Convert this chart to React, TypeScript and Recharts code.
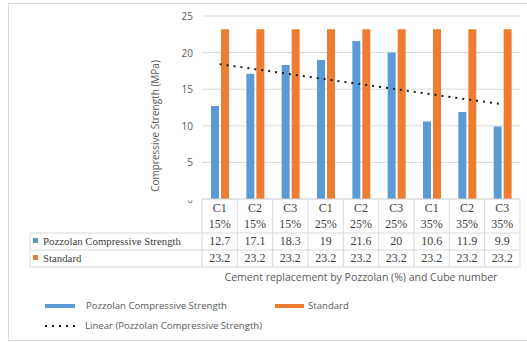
import { ComposedChart, Bar, Line, XAxis, YAxis, CartesianGrid } from "recharts";

const cubes = ["C1", "C2", "C3", "C1", "C2", "C3", "C1", "C2", "C3"];
const replacement = ["15%", "15%", "15%", "25%", "25%", "25%", "35%", "35%", "35%"];
const pozzolan = [12.7, 17.1, 18.3, 19, 21.6, 20, 10.6, 11.9, 9.9];
const standard = [23.2, 23.2, 23.2, 23.2, 23.2, 23.2, 23.2, 23.2, 23.2];
const yTicks = [0, 5, 10, 15, 20, 25];

const W = 527;
const H = 343;
const PLOT_LEFT = 202;
const PLOT_RIGHT = 520;
const PLOT_BOTTOM = 199;
const BAND = (PLOT_RIGHT - PLOT_LEFT) / cubes.length;
const HEAD_BOTTOM = 233;
const ROW1_BOTTOM = 250;
const ROW2_BOTTOM = 267;
const TABLE_LEFT = 30;

const GRID = "#d9d9d9";
const TEXT = "#595959";
const TABLE_TEXT = "#404040";
const BLUE = "#5b9bd5";
const ORANGE = "#ed7d31";
const SERIF = "'Liberation Serif', 'DejaVu Serif', serif";
const SANS = "'Open Sans', 'Noto Sans', sans-serif";

// least-squares linear trend through the pozzolan values
const n = pozzolan.length;
const xMean = (n + 1) / 2;
const yMean = pozzolan.reduce((a, b) => a + b, 0) / n;
let sxy = 0;
let sxx = 0;
pozzolan.forEach((v, i) => {
  sxy += (i + 1 - xMean) * (v - yMean);
  sxx += (i + 1 - xMean) ** 2;
});
const slope = sxy / sxx;

const data = cubes.map((c, i) => ({
  key: `${c}-${replacement[i]}`,
  pozzolan: pozzolan[i],
  standard: standard[i],
  trend: yMean + slope * (i + 1 - xMean),
}));

const YTick = (props: any) => {
  const { y, payload } = props;
  return (
    <g>
      <text
        x={PLOT_LEFT - 9}
        y={y}
        textAnchor="end"
        dominantBaseline="central"
        fontSize={10}
        fontFamily={SANS}
        fill={TEXT}
      >
        {payload.value}
      </text>
      {payload.value === 0 && <rect x={PLOT_LEFT - 20} y={y - 8} width={16} height={9.5} fill="#fff" />}
    </g>
  );
};

// one column of the data table under each category
const TableTick = (props: any) => {
  const { x, index } = props;
  const left = x - BAND / 2;
  const right = x + BAND / 2;
  const cell = (label: string | number, cy: number) => (
    <text
      x={x}
      y={cy}
      textAnchor="middle"
      dominantBaseline="central"
      fontSize={12}
      fontFamily={SERIF}
      fill={TABLE_TEXT}
    >
      {label}
    </text>
  );
  return (
    <g>
      {index === 0 && <line x1={left} y1={PLOT_BOTTOM} x2={left} y2={ROW2_BOTTOM} stroke={GRID} />}
      <line x1={right} y1={PLOT_BOTTOM} x2={right} y2={ROW2_BOTTOM} stroke={GRID} />
      {cell(cubes[index], 208)}
      {cell(replacement[index], 224)}
      {cell(pozzolan[index], 241)}
      {cell(standard[index], 258)}
    </g>
  );
};

const legendText = { fontFamily: SANS, fontSize: 9.6, color: TEXT, whiteSpace: "nowrap" as const, lineHeight: "12px" };

const LegendBox = () => (
  <div style={{ position: "absolute", left: 0, top: 296, width: W, height: 40 }}>
    <div style={{ position: "absolute", left: 45, top: 8, width: 30, height: 4, background: BLUE }} />
    <div style={{ ...legendText, position: "absolute", left: 86, top: 4 }}>Pozzolan Compressive Strength</div>
    <div style={{ position: "absolute", left: 275, top: 8, width: 29, height: 4, background: ORANGE }} />
    <div style={{ ...legendText, position: "absolute", left: 308, top: 4 }}>Standard</div>
    <svg style={{ position: "absolute", left: 44, top: 28 }} width={34} height={4}>
      <line x1={1} y1={2} x2={33} y2={2} stroke="#1a1a1a" strokeWidth={2} strokeDasharray="2 5" />
    </svg>
    <div style={{ ...legendText, position: "absolute", left: 85, top: 24 }}>
      Linear (Pozzolan Compressive Strength)
    </div>
  </div>
);

export default function App() {
  return (
    <div style={{ position: "absolute", left: 0, top: 0, width: W, height: H, overflow: "hidden", background: "#fff" }}>
      <div
        style={{
          position: "absolute",
          left: 8,
          top: 3,
          width: 530,
          height: 338,
          border: `1px solid ${GRID}`,
          boxSizing: "border-box",
        }}
      />
      <ComposedChart
        width={W}
        height={H}
        data={data}
        margin={{ top: 16, right: W - PLOT_RIGHT, bottom: 0, left: PLOT_LEFT - 30 }}
        barGap={2}
        style={{ position: "absolute", left: 0, top: 0 }}
      >
        <CartesianGrid vertical={false} stroke={GRID} />
        <XAxis
          dataKey="key"
          interval={0}
          height={H - PLOT_BOTTOM}
          tickLine={false}
          tickSize={0}
          axisLine={{ stroke: GRID }}
          tick={TableTick}
        />
        <YAxis
          width={30}
          domain={[0, 25]}
          ticks={yTicks}
          axisLine={false}
          tickLine={false}
          tickSize={0}
          tick={YTick}
        />
        <Bar dataKey="pozzolan" fill={BLUE} barSize={8} isAnimationActive={false} />
        <Bar dataKey="standard" fill={ORANGE} barSize={8} isAnimationActive={false} />
        <Line
          dataKey="trend"
          type="linear"
          stroke="#1a1a1a"
          strokeWidth={2}
          strokeDasharray="2 5"
          dot={false}
          activeDot={false}
          isAnimationActive={false}
        />
      </ComposedChart>
      <LegendBox />
      <svg width={W} height={H} style={{ position: "absolute", left: 0, top: 0, pointerEvents: "none" }}>
        <text
          transform="translate(155 126) rotate(-90)"
          textAnchor="middle"
          dominantBaseline="central"
          fontSize={10}
          fontFamily={SANS}
          fill={TEXT}
        >
          Compressive Strength (MPa)
        </text>
        {[HEAD_BOTTOM, ROW1_BOTTOM, ROW2_BOTTOM].map((yy) => (
          <line key={yy} x1={TABLE_LEFT} y1={yy} x2={PLOT_RIGHT - 1} y2={yy} stroke={GRID} />
        ))}
        <line x1={TABLE_LEFT} y1={HEAD_BOTTOM} x2={TABLE_LEFT} y2={ROW2_BOTTOM} stroke={GRID} />
        <rect x={33} y={238} width={5} height={5} fill={BLUE} />
        <text x={43} y={240.5} dominantBaseline="central" fontSize={10.8} fontFamily={SERIF} fill={TABLE_TEXT}>
          Pozzolan Compressive Strength
        </text>
        <rect x={33} y={255} width={5} height={5} fill={ORANGE} />
        <text x={43} y={257.5} dominantBaseline="central" fontSize={10.8} fontFamily={SERIF} fill={TABLE_TEXT}>
          Standard
        </text>
        <text
          x={361}
          y={277}
          textAnchor="middle"
          dominantBaseline="central"
          fontSize={10.5}
          fontFamily={SANS}
          fill={TEXT}
        >
          Cement replacement by Pozzolan (%) and Cube number
        </text>
      </svg>
    </div>
  );
}
